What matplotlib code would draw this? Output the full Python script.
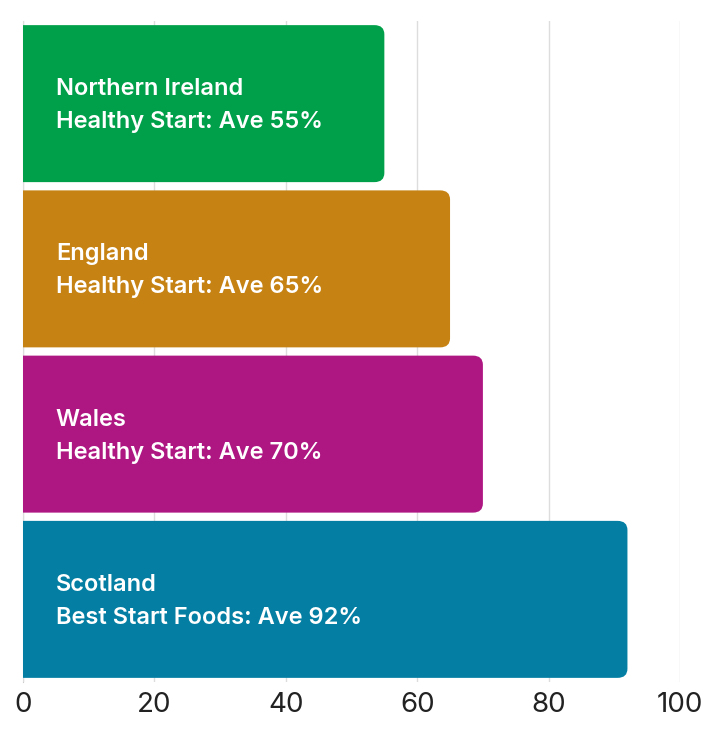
import matplotlib
matplotlib.use("Agg")
import matplotlib.pyplot as plt
from matplotlib.patches import FancyBboxPatch

regions = ["Northern Ireland", "England", "Wales", "Scotland"]
schemes = ["Healthy Start", "Healthy Start", "Healthy Start", "Best Start Foods"]
values = [55, 65, 70, 92]
colors = ["#00A04B", "#C68314", "#AE1682", "#047FA3"]
xticks = [0, 20, 40, 60, 80, 100]

plt.rcParams['font.family'] = ['Inter', 'DejaVu Sans']

fig = plt.figure(figsize=(7.2, 7.5), dpi=100)
ax = fig.add_axes([23/720, 1 - 682/750, (680-23)/720, (682-21)/750])

ypos = list(range(len(regions)))
bars = ax.barh(ypos, values, height=0.95, color="none", zorder=2)
ax.set_xlim(0, 100)
ax.set_ylim(len(regions) - 0.5, -0.5)

rx = 1.5
asp = 0.037
ext = 4
for b, c in zip(bars, colors):
    x0, y0 = b.get_x(), b.get_y()
    w, h = b.get_width(), b.get_height()
    p = FancyBboxPatch((x0 - ext, y0), w + ext, h,
                       boxstyle=f"round,pad=0,rounding_size={rx}",
                       mutation_aspect=asp, facecolor=c, edgecolor="none", zorder=3)
    ax.add_patch(p)
    p.set_clip_path(ax.patch)

for y, r, s, v in zip(ypos, regions, schemes, values):
    ax.text(5, y - 0.088, r, color="white", fontsize=17, fontweight="semibold",
            va="center", ha="left", zorder=4)
    ax.text(5, y + 0.112, f"{s}: Ave {v}%", color="white", fontsize=17,
            fontweight="semibold", va="center", ha="left", zorder=4)

ax.set_xticks(xticks)
ax.set_xticklabels([str(t) for t in xticks], fontsize=20, color="#222222",
                   fontweight="normal")
ax.set_yticks([])
ax.tick_params(axis="x", length=0, pad=7)
ax.grid(axis="x", color="#DDDDDD", linewidth=1, zorder=1)
for sp in ["top", "right", "bottom"]:
    ax.spines[sp].set_visible(False)
ax.spines["left"].set_color("#CCCCCC")
ax.spines["left"].set_zorder(1)

fig.savefig("out.png", dpi=100)
